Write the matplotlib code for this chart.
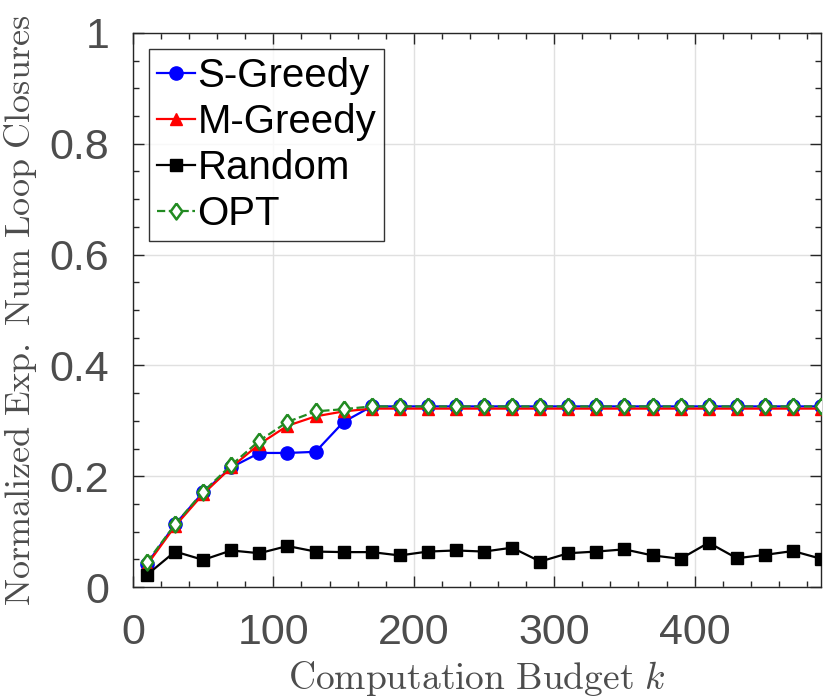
import numpy as np
import matplotlib
matplotlib.use("Agg")
import matplotlib.pyplot as plt
from matplotlib.ticker import MultipleLocator

plt.rcParams['mathtext.fontset'] = 'cm'
plt.rcParams['font.family'] = ['Liberation Sans', 'DejaVu Sans']

# budgets k
k = [10, 30, 50, 70, 90, 110, 130, 150, 170, 190, 210, 230, 250, 270, 290,
     310, 330, 350, 370, 390, 410, 430, 450, 470, 490]

s_greedy = [0.042, 0.113, 0.171, 0.216, 0.242, 0.242, 0.244, 0.298, 0.326] + [0.326] * 16
m_greedy = [0.040, 0.110, 0.168, 0.216, 0.258, 0.291, 0.308, 0.317, 0.322] + [0.322] * 16
opt = [0.045, 0.113, 0.172, 0.220, 0.264, 0.298, 0.317, 0.321, 0.326] + [0.326] * 16
rand = [0.022, 0.064, 0.049, 0.066, 0.061, 0.074, 0.064, 0.063, 0.063, 0.057,
        0.064, 0.066, 0.064, 0.071, 0.046, 0.061, 0.064, 0.068, 0.057, 0.051,
        0.080, 0.052, 0.058, 0.065, 0.051]

ytick_vals = [0, 0.2, 0.4, 0.6, 0.8, 1]
ytick_labels = ['0', '0.2', '0.4', '0.6', '0.8', '1']
xtick_vals = [0, 100, 200, 300, 400]

fig = plt.figure(figsize=(8.3, 6.99), dpi=100)
ax = fig.add_axes([0.1602, 0.1602, 0.829, 0.7926])

gray = '#4d4d4d'
green = '#228b22'
diamond = [(0, 1), (0.73, 0), (0, -1), (-0.73, 0), (0, 1)]

ax.plot(k, s_greedy, '-o', color='blue', lw=1.6, ms=9.5, label='S-Greedy', zorder=3)
ax.plot(k, m_greedy, '-^', color='red', lw=1.6, ms=9, label='M-Greedy', zorder=4)
ax.plot(k, rand, '-s', color='black', lw=1.6, ms=8, label='Random', zorder=5)
ax.plot(k, opt, '--', marker=diamond, color=green, lw=1.6, ms=11.5, mfc='white',
        mec=green, mew=1.8, label='OPT', zorder=6)

ax.set_xlim(0, 490)
ax.set_ylim(0, 1)
ax.set_xticks(xtick_vals)
ax.set_yticks(ytick_vals)
ax.set_yticklabels(ytick_labels)
ax.xaxis.set_minor_locator(MultipleLocator(20))
ax.yaxis.set_minor_locator(MultipleLocator(0.05))
ax.tick_params(which='both', direction='in', top=True, right=True,
               colors='#262626', labelcolor=gray, labelsize=31, width=1)
ax.tick_params(which='major', length=8)
ax.tick_params(which='minor', length=4)
ax.tick_params(axis='x', which='major', pad=19)
ax.tick_params(axis='y', which='major', pad=17)
for s in ax.spines.values():
    s.set_color('#262626')
    s.set_linewidth(1)
ax.grid(True, which='major', color='#e0e0e0', lw=1)
ax.set_axisbelow(True)

ax.set_xlabel(r'$\mathrm{Computation\ Budget}\ k$', fontsize=27, color=gray, labelpad=4)
ax.set_ylabel(r'$\mathrm{Normalized\ Exp.\ Num\ Loop\ Closures}$', fontsize=26,
              color=gray)
ax.yaxis.set_label_coords(-0.136, 0.5)

leg = ax.legend(loc='upper left', fontsize=29, frameon=True, fancybox=False,
                edgecolor='black', handlelength=0.95, handletextpad=0.05,
                borderpad=0.2, labelspacing=0.2, borderaxespad=0.4)
leg.get_frame().set_linewidth(1)

fig.savefig('out.png', dpi=100)
